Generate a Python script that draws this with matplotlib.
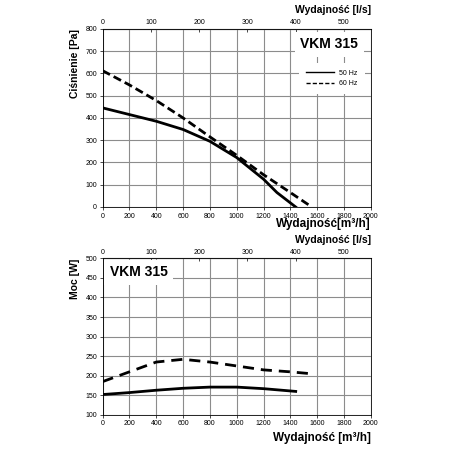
"""Fan curves for VKM 315: pressure and power versus airflow."""

import matplotlib
matplotlib.use("Agg")
import matplotlib.pyplot as plt

plt.rcParams["font.family"] = ["Liberation Sans", "DejaVu Sans"]

# pressure curves [m3/h] -> [Pa]
flow_p50 = [0, 200, 400, 600, 800, 1000, 1200, 1300, 1440]
pres_50 = [445, 415, 385, 348, 295, 222, 125, 65, 0]
flow_p60 = [0, 200, 400, 600, 800, 1000, 1200, 1400, 1560]
pres_60 = [612, 548, 478, 400, 315, 232, 145, 65, 0]

# power curves [m3/h] -> [W]
flow_w50 = [0, 200, 400, 600, 800, 1000, 1200, 1440]
power_50 = [152, 157, 163, 168, 171, 171, 167, 160]
flow_w60 = [0, 200, 400, 600, 800, 1000, 1200, 1400, 1560]
power_60 = [185, 210, 235, 242, 235, 225, 215, 210, 205]

model = "VKM 315"
GRID = "#8c8c8c"


def style_axes(ax, ylim, ystep):
    ax.set_xlim(0, 2000)
    ax.set_ylim(*ylim)
    ax.set_xticks(range(0, 2001, 200))
    ax.set_yticks(range(ylim[0], ylim[1] + 1, ystep))
    ax.grid(True, color=GRID, linewidth=0.8)
    ax.tick_params(labelsize=5, length=2, width=0.5, pad=2)
    for s in ax.spines.values():
        s.set_linewidth(0.6)
    top = ax.secondary_xaxis("top", functions=(lambda x: x / 3.6, lambda x: x * 3.6))
    top.set_xticks(range(0, 501, 100))
    top.tick_params(labelsize=5, length=2, width=0.5, pad=2, direction="in")


fig = plt.figure(figsize=(4.5, 4.5), dpi=100)

ax1 = fig.add_axes([0.228, 0.54, 0.596, 0.396])
style_axes(ax1, (0, 800), 100)
ax1.plot(flow_p50, pres_50, color="black", lw=2, label="50 Hz", zorder=3)
ax1.plot(flow_p60, pres_60, color="black", lw=2, ls=(0, (3, 1.5)), label="60 Hz", zorder=3)
ax1.text(1690, 730, model, fontsize=10, fontweight="bold", ha="center", va="center",
         bbox=dict(facecolor="white", edgecolor="none", pad=4), zorder=4)
leg = ax1.legend(loc="upper right", bbox_to_anchor=(0.99, 0.83), fontsize=5,
                 frameon=True, fancybox=False, handlelength=4, borderpad=1)
leg.get_frame().set_edgecolor("none")
leg.get_frame().set_facecolor("white")
leg.get_frame().set_alpha(1)
for line in leg.get_lines():
    line.set_linewidth(1)
ax1.set_ylabel("Ciśnienie [Pa]", fontsize=7.5, fontweight="bold", loc="top", labelpad=4)
fig.text(0.824, 0.502, "Wydajność[m³/h]", fontsize=8.5, fontweight="bold", ha="right", va="center")
fig.text(0.824, 0.977, "Wydajność [l/s]", fontsize=7.5, fontweight="bold", ha="right", va="center")

ax2 = fig.add_axes([0.228, 0.078, 0.596, 0.348])
style_axes(ax2, (100, 500), 50)
ax2.plot(flow_w50, power_50, color="black", lw=2, zorder=3)
ax2.plot(flow_w60, power_60, color="black", lw=2, ls=(0, (4, 2.5)), zorder=3)
ax2.text(55, 464, model, fontsize=10, fontweight="bold", ha="left", va="center",
         bbox=dict(facecolor="white", edgecolor="none", pad=4), zorder=4)
ax2.set_ylabel("Moc [W]", fontsize=7.5, fontweight="bold", loc="top", labelpad=4)
fig.text(0.824, 0.466, "Wydajność [l/s]", fontsize=7.5, fontweight="bold", ha="right", va="center")
fig.text(0.824, 0.027, "Wydajność [m³/h]", fontsize=8.5, fontweight="bold", ha="right", va="center")

fig.savefig("out.png", dpi=100)
